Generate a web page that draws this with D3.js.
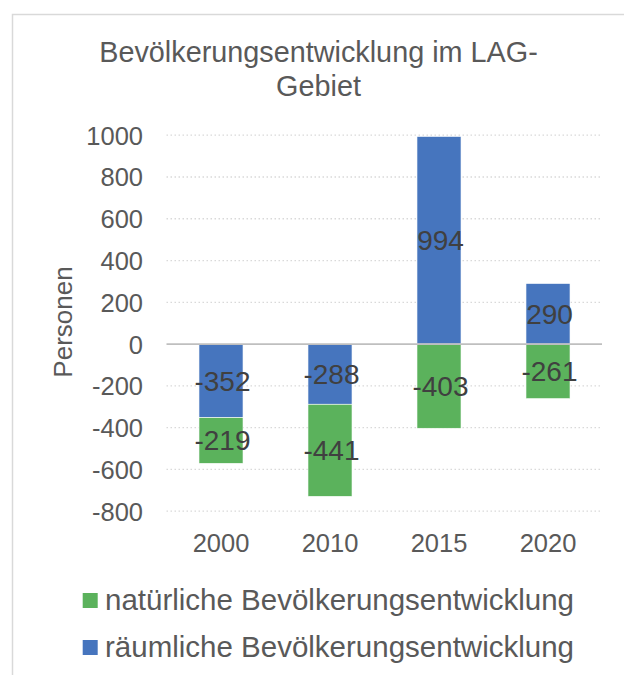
<!DOCTYPE html>
<html><head><meta charset="utf-8">
<script src="https://cdn.jsdelivr.net/npm/d3@7"></script>
<style>body{margin:0;background:#fff;} svg{display:block;font-family:"Liberation Sans",Arial,sans-serif;}</style>
</head><body>
<script>
const categories = ["2000", "2010", "2015", "2020"];
const raeumlich = [-352, -288, 994, 290];
const natuerlich = [-219, -441, -403, -261];
const yTicks = [1000, 800, 600, 400, 200, 0, -200, -400, -600, -800];
const seriesNames = ["natürliche Bevölkerungsentwicklung", "räumliche Bevölkerungsentwicklung"];
const colors = {nat: "#5BB25C", rau: "#4675BE"};

const W = 624, H = 675;
const svg = d3.select("body").append("svg").attr("width", W).attr("height", H);

// chart border
svg.append("rect").attr("x", 12.5).attr("y", 14.5).attr("width", 640).attr("height", 700)
  .attr("fill", "#fff").attr("stroke", "#d9d9d9").attr("stroke-width", 1.5);

// title
const title = svg.append("text").attr("text-anchor", "middle").attr("fill", "#595959")
  .style("font-size", "28.8px");
title.append("tspan").attr("x", 318.5).attr("y", 62).text("Bevölkerungsentwicklung im LAG-");
title.append("tspan").attr("x", 318.5).attr("y", 95.5).text("Gebiet");

const y = d3.scaleLinear().domain([-800, 1000]).range([511.2, 135.2]);
const x = d3.scaleBand().domain(categories).range([166.5, 602.5]).paddingInner(0.596).paddingOuter(0.298);

// gridlines
svg.append("g").selectAll("line").data(yTicks.filter(d => d !== 0)).join("line")
  .attr("x1", 166.5).attr("x2", 602).attr("y1", d => y(d)).attr("y2", d => y(d))
  .attr("stroke", "#d9d9d9").attr("stroke-width", 1.3).attr("stroke-dasharray", "1.5,2.5");

// y axis labels
const yAxis = svg.append("g").attr("transform", "translate(166.5,0)")
  .call(d3.axisLeft(y).tickValues(yTicks).tickSize(0).tickPadding(23.5).tickFormat(d => String(d)));
yAxis.select(".domain").remove();
yAxis.selectAll("text").attr("fill", "#595959").style("font-size", "25.5px")
  .style("font-family", "'Liberation Sans',Arial,sans-serif").attr("dy", "0.35em");

// stacked data
const rows = categories.map((c, i) => ({cat: c, rau: raeumlich[i], nat: natuerlich[i]}));
function segs(d) {
  const out = [];
  let pos = 0, neg = 0;
  [["rau", d.rau], ["nat", d.nat]].forEach(([k, v]) => {
    if (v >= 0) { out.push({k, v, y0: pos, y1: pos + v, cat: d.cat}); pos += v; }
    else { out.push({k, v, y0: neg, y1: neg + v, cat: d.cat}); neg += v; }
  });
  return out;
}
const allSegs = rows.flatMap(segs);

svg.append("g").selectAll("rect").data(allSegs).join("rect")
  .attr("x", d => x(d.cat)).attr("width", x.bandwidth())
  .attr("y", d => Math.min(y(d.y0), y(d.y1))).attr("height", d => Math.abs(y(d.y0) - y(d.y1)))
  .attr("fill", d => colors[d.k]).attr("stroke", "#ffffff").attr("stroke-width", 0.6);

// zero line
svg.append("line").attr("x1", 166.5).attr("x2", 602).attr("y1", y(0)).attr("y2", y(0))
  .attr("stroke", "#bfbfbf").attr("stroke-width", 1.8);

// data labels
svg.append("g").selectAll("text").data(allSegs).join("text")
  .attr("x", d => x(d.cat) + x.bandwidth() / 2 + 1.5)
  .attr("y", d => y((d.y0 + d.y1) / 2)).attr("dy", "0.35em")
  .attr("text-anchor", "middle").attr("fill", "#404040").style("font-size", "28px")
  .text(d => String(d.v));

// x labels
svg.append("g").selectAll("text").data(categories).join("text")
  .attr("x", d => x(d) + x.bandwidth() / 2).attr("y", 552)
  .attr("text-anchor", "middle").attr("fill", "#595959").style("font-size", "25.5px").text(d => d);

// y title
svg.append("text").attr("transform", "translate(72,322) rotate(-90)").attr("text-anchor", "middle")
  .attr("fill", "#595959").style("font-size", "26px").text("Personen");

// legend
const leg = [{name: seriesNames[0], c: colors.nat, yy: 609.5}, {name: seriesNames[1], c: colors.rau, yy: 656.5}];
const lg = svg.append("g").selectAll("g").data(leg).join("g");
lg.append("rect").attr("x", 82.7).attr("y", d => d.yy - 16.5).attr("width", 15).attr("height", 15).attr("fill", d => d.c);
lg.append("text").attr("x", 105).attr("y", d => d.yy).attr("fill", "#595959").style("font-size", "29.5px").text(d => d.name);
</script>
</body></html>
